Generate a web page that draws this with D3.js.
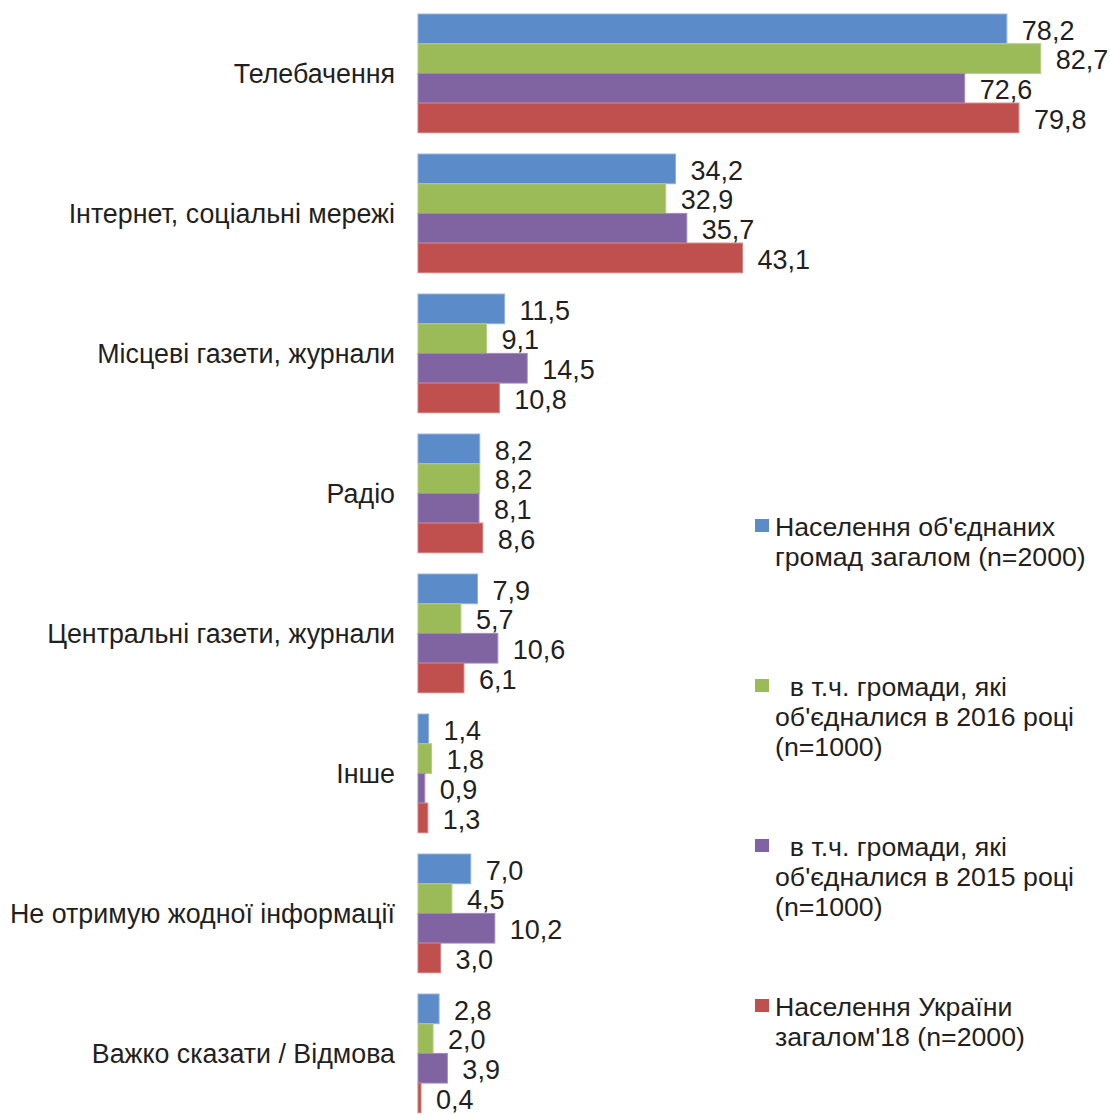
<!DOCTYPE html>
<html><head><meta charset="utf-8">
<script src="https://cdn.jsdelivr.net/npm/d3@7/dist/d3.min.js"></script>
<style>body{margin:0;background:#fff}svg{display:block}text{font-family:"Liberation Sans",Arial,sans-serif;fill:#231f20}</style>
</head><body><div id="chart"></div>
<script>
const categories = ["Телебачення","Інтернет, соціальні мережі","Місцеві газети, журнали","Радіо","Центральні газети, журнали","Інше","Не отримую жодної інформації","Важко сказати / Відмова"];
const seriesNames = ["Населення об'єднаних|громад загалом (n=2000)","  в т.ч. громади, які|об'єдналися в 2016 році|(n=1000)","  в т.ч. громади, які|об'єдналися в 2015 році|(n=1000)","Населення України|загалом'18 (n=2000)"];
const s1 = [78.2,34.2,11.5,8.2,7.9,1.4,7.0,2.8];
const s2 = [82.7,32.9,9.1,8.2,5.7,1.8,4.5,2.0];
const s3 = [72.6,35.7,14.5,8.1,10.6,0.9,10.2,3.9];
const s4 = [79.8,43.1,10.8,8.6,6.1,1.3,3.0,0.4];
const series = [s1,s2,s3,s4];
const colors = ["#5b8bc8","#9bbb59","#8064a2","#c0504d"];
const strokes = ["#8fb0dc","#b5cd85","#a08bbd","#d27f7d"];

const W=1110,H=1115;
const svg=d3.select("#chart").append("svg").attr("width",W).attr("height",H);
const x=d3.scaleLinear().domain([0,100]).range([418,418+753]);
const y0=d3.scaleBand().domain(categories).range([3.4,1123.4]).paddingInner(0.152).paddingOuter(0.076);
const y1=d3.scaleBand().domain(d3.range(4)).range([0,y0.bandwidth()]);

const g=svg.append("g");
categories.forEach((c,i)=>{
  const gy=y0(c);
  series.forEach((s,k)=>{
    const v=s[i];
    g.append("rect").attr("x",x(0)).attr("y",gy+y1(k)).attr("width",x(v)-x(0)).attr("height",y1.bandwidth())
      .attr("fill",colors[k]).attr("stroke",strokes[k]).attr("stroke-width",1);
    g.append("text").attr("x",x(v)+15).attr("y",gy+y1(k)+y1.bandwidth()/2+1).attr("dy","0.36em")
      .attr("font-size",27).text(d3.format(".1f")(v).replace(".",","));
  });
  g.append("text").attr("x",395).attr("y",gy+y0.bandwidth()/2).attr("dy","0.36em").attr("text-anchor","end")
    .attr("font-size",26.8).text(c);
});

const lg=svg.append("g");
seriesNames.forEach((n,k)=>{
  const ly=526+k*160;
  lg.append("rect").attr("x",755).attr("y",ly-7).attr("width",14).attr("height",13).attr("fill",colors[k]);
  const t=lg.append("text").attr("x",775).attr("y",ly).attr("font-size",26.7).style("white-space","pre");
  n.split("|").forEach((line,j)=>{
    t.append("tspan").attr("x",775).attr("dy",j===0?"0.36em":"30").text(line);
  });
});
</script></body></html>
